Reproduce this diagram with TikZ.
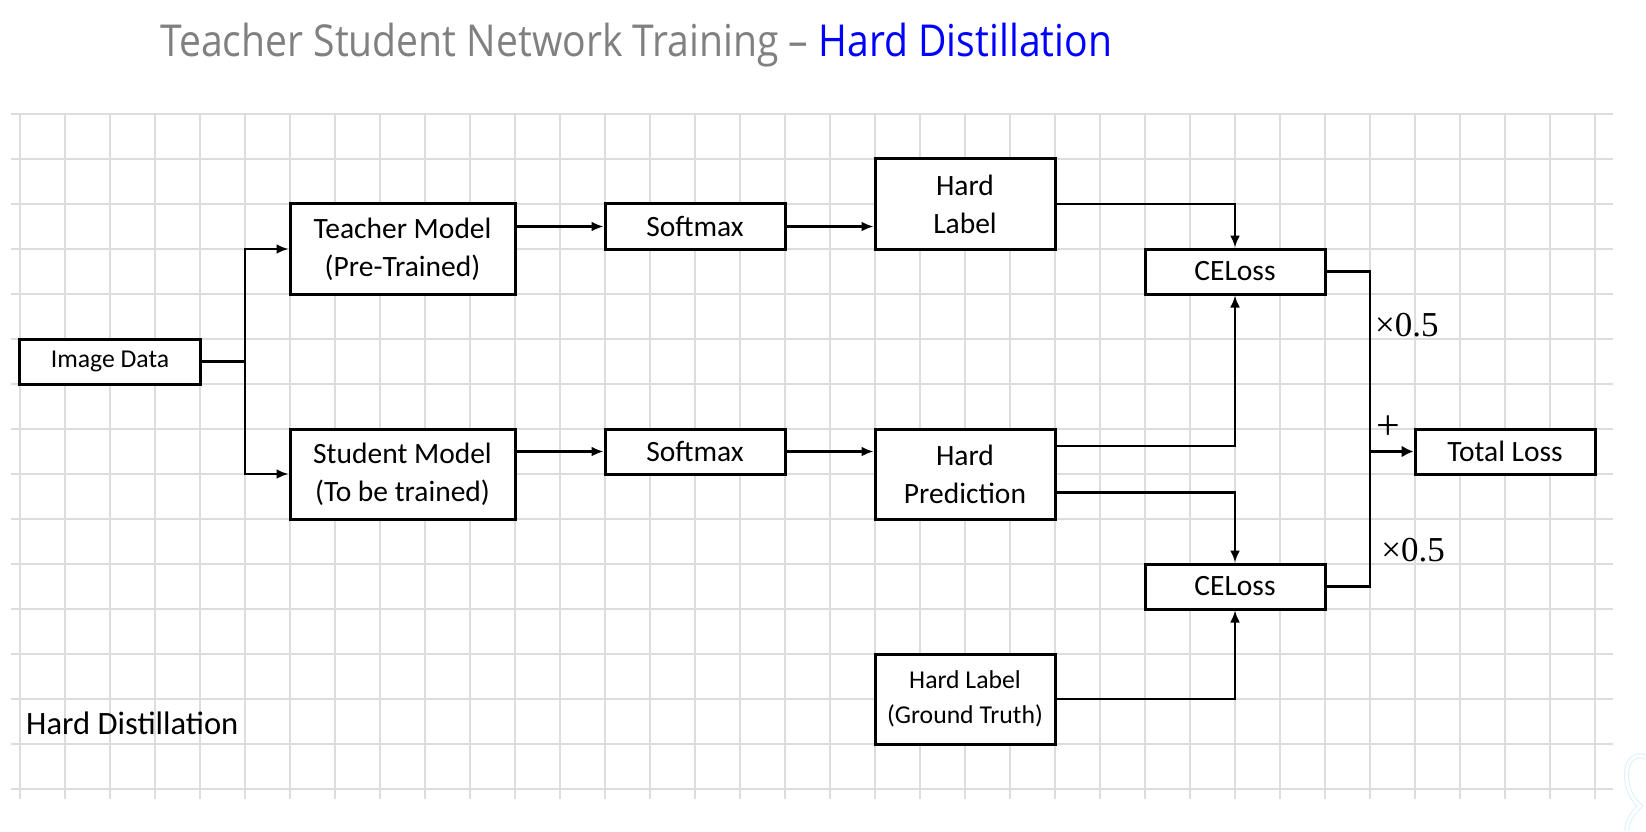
\documentclass[tikz,border=0pt]{standalone}
\usepackage{fontspec}
\usepackage{graphicx}
\setmainfont{Carlito}
\newfontfamily\titlefont{Open Sans}
\newfontfamily\numfont{Liberation Serif}
\usetikzlibrary{arrows.meta,calc}

\definecolor{gridgray}{HTML}{DDDDDD}
\definecolor{titlegray}{HTML}{808080}
\definecolor{titleblue}{HTML}{0000FF}

\tikzset{
  blk/.style 2 args={draw, line width=1.5pt, fill=white, inner sep=0pt, align=center,
    minimum width=#1*22.5pt, minimum height=#2*22.5pt,
    font=\fontsize{14.75}{19}\selectfont},
  small/.style={font=\fontsize{12.85}{17.8}\selectfont},
  conn/.style={line width=1.2pt},
  arr/.style={conn, -{Latex[length=6pt,width=5pt]}},
  lbl/.style={inner sep=0pt, font=\numfont\fontsize{17.5}{20}\selectfont},
  gridline/.style={gridgray, line width=0.75pt}
}

\begin{document}
\begin{tikzpicture}[x=22.5pt,y=22.5pt]
\useasboundingbox[fill=white] (-0.4444,-0.9333) rectangle (36.1333,17.5333);

% background grid
\foreach \k in {0,...,35} {
  \draw[gridline] (\k,-0.222) -- (\k,15.022);
}
\foreach \j in {0,...,15} {
  \draw[gridline] (-0.2,\j) -- (35.4,\j);
}

% title
\node[anchor=base west, inner sep=0pt] (title) at (3.11,16.267)
  {\scalebox{0.889}[1]{\titlefont\fontsize{22}{26}\selectfont\color{titlegray}Teacher Student Network Training – \color{titleblue}Hard Distillation}};

% blocks
\node[blk={4}{1}, small] (img) at (2,9.5) {Image Data};
\node[blk={5}{2}] (teacher) at (8.5,12) {Teacher Model\\(Pre-Trained)};
\node[blk={5}{2}] (student) at (8.5,7) {Student Model\\(To be trained)};
\node[blk={4}{1}] (soft1) at (15,12.5) {Softmax};
\node[blk={4}{1}] (soft2) at (15,7.5) {Softmax};
\node[blk={4}{2}] (hlabel) at (21,13) {Hard\\Label};
\node[blk={4}{2}] (hpred) at (21,7) {Hard\\Prediction};
\node[blk={4}{2}, small] (truth) at (21,2) {Hard Label\\(Ground Truth)};
\node[blk={4}{1}] (ce1) at (27,11.5) {CELoss};
\node[blk={4}{1}] (ce2) at (27,4.5) {CELoss};
\node[blk={4}{1}] (total) at (33,7.5) {Total Loss};

% connectors
\coordinate (split) at (5,9.5);
\coordinate (sum) at (30,7.5);
\draw[conn] (img.east) -- (split);
\draw[arr] (split) |- (teacher.west);
\draw[arr] (split) |- (student.west);
\draw[arr] (teacher.east |- soft1) -- (soft1.west);
\draw[arr] (soft1.east) -- (hlabel.west |- soft1);
\draw[arr] (student.east |- soft2) -- (soft2.west);
\draw[arr] (soft2.east) -- (hpred.west |- soft2);
\draw[arr] (hlabel.east) -| (ce1.north);
\draw[arr] ($(hpred.north east)!0.2!(hpred.south east)$) -| (ce1.south);
\draw[arr] ($(hpred.north east)!0.7!(hpred.south east)$) -| (ce2.north);
\draw[arr] (truth.east) -| (ce2.south);
\draw[conn] (ce1.east) -| (sum);
\draw[conn] (ce2.east) -| (sum);
\draw[line width=1.7pt, -{Latex[length=6pt,width=6pt]}] (sum) -- (total.west);

% weights
\node[lbl] (w1) at (30.82,10.31) {×0.5};
\node[lbl, font=\numfont\fontsize{21}{24}\selectfont] (plus) at (30.4,8.04) {+};
\node[lbl] (w2) at (30.96,5.31) {×0.5};

\node[anchor=base west, inner sep=0pt, font=\fontsize{16.3}{19}\selectfont] (mode) at (0.13,1.22) {Hard Distillation};

% corner mark
\draw[cyan!15, line width=0.5pt, double=white, double distance=1.5pt]
  (36.13,0.711) .. controls (35.6,0.911) and (35.56,-0.022) .. (36.0,-0.378)
  .. controls (35.78,-0.578) and (35.69,-0.8) .. (35.71,-0.933);
\end{tikzpicture}
\end{document}
